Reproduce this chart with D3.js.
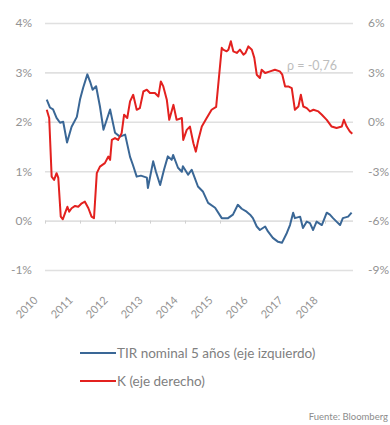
<!DOCTYPE html>
<html>
<head>
<meta charset="utf-8">
<script src="https://cdn.jsdelivr.net/npm/d3@7"></script>
<style>
  body { margin: 0; background: #fff; }
  svg text { font-family: Lato, "Open Sans", sans-serif; }
</style>
</head>
<body>
<div id="chart"></div>
<script>
// Series values (decimal years)
const tirYears = [2010.05, 2010.14, 2010.23, 2010.33, 2010.43, 2010.52, 2010.63, 2010.76, 2010.91, 2011.00,
  2011.09, 2011.21, 2011.29, 2011.36, 2011.46, 2011.57, 2011.67, 2011.86, 2012.00, 2012.14,
  2012.29, 2012.43, 2012.51, 2012.62, 2012.74, 2012.91, 2012.94, 2013.09, 2013.17, 2013.29,
  2013.40, 2013.51, 2013.62, 2013.66, 2013.80, 2013.91, 2013.94, 2014.09, 2014.19, 2014.37,
  2014.51, 2014.66, 2014.86, 2015.05, 2015.23, 2015.37, 2015.51, 2015.62, 2015.76, 2015.86,
  2015.94, 2016.05, 2016.14, 2016.29, 2016.37, 2016.51, 2016.66, 2016.77, 2016.91, 2017.00,
  2017.09, 2017.14, 2017.29, 2017.37, 2017.48, 2017.57, 2017.66, 2017.76, 2017.91, 2018.05,
  2018.14, 2018.23, 2018.33, 2018.43, 2018.51, 2018.66, 2018.76];
const tirValues = [2.45, 2.29, 2.25, 2.08, 1.98, 2.00, 1.58, 1.90, 2.10, 2.45,
  2.69, 2.96, 2.81, 2.65, 2.72, 2.31, 1.84, 2.25, 1.78, 1.70,
  1.74, 1.29, 1.13, 0.89, 0.91, 0.87, 0.66, 1.20, 0.99, 0.72,
  1.03, 1.30, 1.23, 1.33, 1.07, 0.99, 1.10, 0.93, 1.03, 0.69,
  0.59, 0.36, 0.26, 0.05, 0.05, 0.12, 0.32, 0.24, 0.18, 0.12,
  0.05, -0.12, -0.19, -0.12, -0.22, -0.35, -0.43, -0.45, -0.25, -0.09,
  0.16, 0.05, 0.08, -0.15, -0.02, -0.05, -0.19, -0.02, -0.09, 0.16,
  0.12, 0.05, -0.02, -0.09, 0.05, 0.08, 0.16];

const kYears = [2010.05, 2010.12, 2010.19, 2010.26, 2010.33, 2010.38, 2010.45, 2010.51, 2010.57, 2010.64,
  2010.69, 2010.76, 2010.86, 2010.95, 2011.05, 2011.14, 2011.24, 2011.33, 2011.40, 2011.48,
  2011.57, 2011.71, 2011.81, 2011.86, 2011.91, 2012.00, 2012.09, 2012.19, 2012.26, 2012.35,
  2012.43, 2012.52, 2012.62, 2012.71, 2012.81, 2012.91, 2013.00, 2013.14, 2013.24, 2013.31,
  2013.38, 2013.48, 2013.55, 2013.67, 2013.76, 2013.91, 2013.95, 2014.05, 2014.14, 2014.24,
  2014.31, 2014.38, 2014.48, 2014.62, 2014.76, 2014.89, 2015.05, 2015.09, 2015.19, 2015.24,
  2015.31, 2015.38, 2015.48, 2015.57, 2015.67, 2015.73, 2015.81, 2015.91, 2015.98, 2016.05,
  2016.14, 2016.19, 2016.29, 2016.43, 2016.57, 2016.71, 2016.78, 2016.86, 2016.95, 2017.05,
  2017.14, 2017.24, 2017.31, 2017.38, 2017.48, 2017.57, 2017.67, 2017.81, 2017.91, 2018.05,
  2018.19, 2018.33, 2018.48, 2018.54, 2018.62, 2018.71, 2018.78];
const kValues = [0.73, 0.23, -3.33, -3.53, -3.12, -3.41, -5.76, -5.92, -5.56, -5.16,
  -5.46, -5.25, -5.11, -5.16, -4.95, -4.85, -5.25, -5.76, -5.86, -3.12,
  -2.72, -2.51, -2.11, -2.31, -1.10, -0.99, -1.10, -0.69, 0.43, 0.23,
  1.24, 1.64, 0.73, 0.83, 1.84, 1.95, 1.75, 1.75, 1.54, 2.45,
  2.15, 1.34, 0.12, 1.03, 0.12, 0.23, -1.10, -0.49, -0.29, -1.30,
  -1.81, -1.10, -0.29, 0.23, 0.73, 0.91, 4.49, 4.38, 4.28, 4.38,
  4.89, 4.28, 4.18, 4.38, 4.08, 4.18, 4.58, 4.38, 3.88, 2.86,
  2.66, 3.16, 2.96, 3.06, 3.16, 3.06, 2.86, 2.15, 2.15, 2.05,
  0.73, 0.93, 1.64, 0.93, 0.83, 0.63, 0.73, 0.63, 0.43, 0.12,
  -0.29, -0.38, -0.29, 0.12, -0.29, -0.59, -0.73];

const yearTicks = [2010, 2011, 2012, 2013, 2014, 2015, 2016, 2017, 2018];
const leftTicks = [-1, 0, 1, 2, 3, 4];
const rightTicks = [-9, -6, -3, 0, 3, 6];

const width = 390, height = 425;
const margin = {left: 45, right: 37, top: 23, bottom: 155};

const svg = d3.select("#chart")
  .append("svg")
  .attr("width", width)
  .attr("height", height);

const x = d3.scaleLinear()
  .domain([2010, 2018.8])
  .range([margin.left, width - margin.right]);
const yL = d3.scaleLinear()
  .domain([-1, 4])
  .range([height - margin.bottom, margin.top]);
const yR = d3.scaleLinear()
  .domain([-9, 6])
  .range([height - margin.bottom, margin.top]);

const fmt = d => d + "%";

// left axis with gridlines
const gl = svg.append("g")
  .attr("transform", "translate(" + margin.left + ",0)")
  .call(d3.axisLeft(yL).tickValues(leftTicks).tickFormat(fmt)
    .tickSize(-(width - margin.left - margin.right)).tickPadding(13));
gl.select(".domain").remove();
gl.selectAll(".tick line").attr("stroke", "#e0e0e0").attr("stroke-width", 1.6);
gl.selectAll(".tick text").attr("fill", "#939393").style("font-size", "12px")
  .style("font-family", "Lato, sans-serif");

// right axis
const gr = svg.append("g")
  .attr("transform", "translate(" + (width - margin.right) + ",0)")
  .call(d3.axisRight(yR).tickValues(rightTicks).tickFormat(fmt)
    .tickSize(0).tickPadding(15));
gr.select(".domain").remove();
gr.selectAll(".tick text").attr("fill", "#939393").style("font-size", "12px")
  .style("font-family", "Lato, sans-serif");

// small year ticks on the 0% line
const gt = svg.append("g")
  .attr("transform", "translate(0," + yL(0) + ")")
  .call(d3.axisBottom(x).tickValues(yearTicks).tickSize(3).tickFormat(""));
gt.select(".domain").remove();
gt.selectAll(".tick line").attr("stroke", "#d0d0d0");

// rotated year labels
const gx = svg.append("g")
  .attr("transform", "translate(0," + yL(-1) + ")")
  .call(d3.axisBottom(x).tickValues(yearTicks).tickFormat(d3.format("d")).tickSize(0));
gx.select(".domain").remove();
gx.selectAll(".tick text")
  .attr("fill", "#939393")
  .style("font-size", "11px")
  .style("font-family", "Lato, sans-serif")
  .attr("text-anchor", "end")
  .attr("dy", null)
  .attr("y", 0)
  .attr("transform", "translate(-7,31) rotate(-45)");

// lines
const tirData = tirYears.map((t, i) => [t, tirValues[i]]);
const kData = kYears.map((t, i) => [t, kValues[i]]);

svg.append("path")
  .datum(tirData)
  .attr("fill", "none")
  .attr("stroke", "#3a6796")
  .attr("stroke-width", 2)
  .attr("stroke-linejoin", "round")
  .attr("d", d3.line().x(d => x(d[0])).y(d => yL(d[1])));

svg.append("path")
  .datum(kData)
  .attr("fill", "none")
  .attr("stroke", "#e3211f")
  .attr("stroke-width", 2)
  .attr("stroke-linejoin", "round")
  .attr("d", d3.line().x(d => x(d[0])).y(d => yR(d[1])));

// correlation note
svg.append("text")
  .attr("x", 287)
  .attr("y", 70)
  .text("ρ = -0,76")
  .attr("fill", "#bdbdbd")
  .style("font-size", "12.5px");

// legend
const legend = [
  {label: "TIR nominal 5 años (eje izquierdo)", color: "#3a6796", y: 353},
  {label: "K (eje derecho)", color: "#e3211f", y: 381}
];
legend.forEach(l => {
  svg.append("line")
    .attr("x1", 80).attr("x2", 116)
    .attr("y1", l.y).attr("y2", l.y)
    .attr("stroke", l.color)
    .attr("stroke-width", 2);
  svg.append("text")
    .attr("x", 117)
    .attr("y", l.y + 4.5)
    .text(l.label)
    .attr("fill", "#808080")
    .style("font-size", "13.5px");
});

svg.append("text")
  .attr("x", 388)
  .attr("y", 420)
  .attr("text-anchor", "end")
  .text("Fuente: Bloomberg")
  .attr("fill", "#8c8c8c")
  .style("font-size", "9.5px");
</script>
</body>
</html>
